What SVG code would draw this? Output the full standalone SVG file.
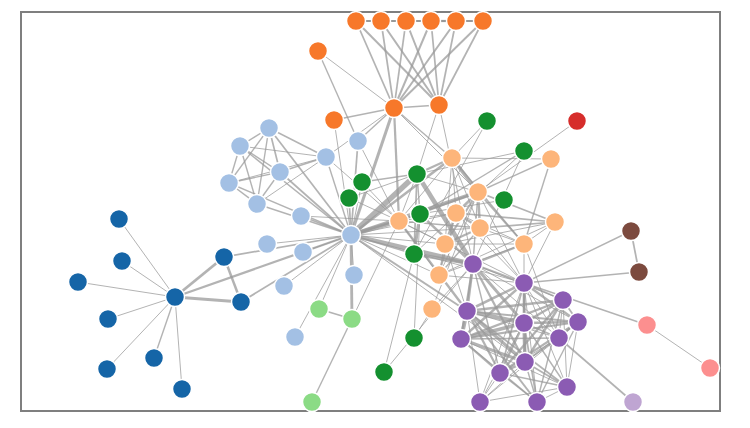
<svg xmlns="http://www.w3.org/2000/svg" width="750" height="428" viewBox="0 0 750 428">
<style>
.frame{fill:#fff;stroke:#7f7f7f;stroke-width:2}
.links line{stroke:#999;stroke-opacity:0.75}
.nodes circle{stroke:#fff;stroke-width:1.5}
.g1{fill:#1565a7}.g2{fill:#a3c0e4}.g3{fill:#f7782a}.g4{fill:#fdb57a}.g5{fill:#14902f}
.g0{fill:#8bdb85}.g6{fill:#d62d2b}.g7{fill:#fc8f8f}.g8{fill:#8b5bb3}.g9{fill:#bfa5d2}.g10{fill:#7c4a3e}
</style>
<rect class="frame" x="21" y="12" width="699" height="399"/>
<g id="links" class="links" stroke-width="1">
<line x1="119" y1="219" x2="175" y2="297"/>
<line x1="224" y1="257" x2="175" y2="297" stroke-width="2.83"/>
<line x1="241" y1="302" x2="175" y2="297" stroke-width="3.16"/>
<line x1="241" y1="302" x2="224" y2="257" stroke-width="2.45"/>
<line x1="122" y1="261" x2="175" y2="297"/>
<line x1="78" y1="282" x2="175" y2="297"/>
<line x1="108" y1="319" x2="175" y2="297"/>
<line x1="107" y1="369" x2="175" y2="297"/>
<line x1="154" y1="358" x2="175" y2="297" stroke-width="1.41"/>
<line x1="182" y1="389" x2="175" y2="297"/>
<line x1="351" y1="235" x2="267" y2="244"/>
<line x1="351" y1="235" x2="241" y2="302" stroke-width="1.73"/>
<line x1="351" y1="235" x2="224" y2="257" stroke-width="1.73"/>
<line x1="351" y1="235" x2="175" y2="297" stroke-width="2.24"/>
<line x1="334" y1="120" x2="351" y2="235"/>
<line x1="303" y1="252" x2="351" y2="235"/>
<line x1="284" y1="286" x2="351" y2="235"/>
<line x1="295" y1="337" x2="351" y2="235"/>
<line x1="356" y1="21" x2="439" y2="105" stroke-width="2"/>
<line x1="381" y1="21" x2="439" y2="105" stroke-width="2"/>
<line x1="381" y1="21" x2="356" y2="21" stroke-width="2"/>
<line x1="406" y1="21" x2="439" y2="105" stroke-width="2"/>
<line x1="406" y1="21" x2="356" y2="21" stroke-width="2"/>
<line x1="406" y1="21" x2="381" y2="21" stroke-width="2"/>
<line x1="431" y1="21" x2="439" y2="105" stroke-width="1.73"/>
<line x1="431" y1="21" x2="356" y2="21" stroke-width="1.73"/>
<line x1="431" y1="21" x2="381" y2="21" stroke-width="1.73"/>
<line x1="431" y1="21" x2="406" y2="21" stroke-width="2"/>
<line x1="456" y1="21" x2="439" y2="105" stroke-width="1.73"/>
<line x1="456" y1="21" x2="356" y2="21" stroke-width="1.73"/>
<line x1="456" y1="21" x2="381" y2="21" stroke-width="1.73"/>
<line x1="456" y1="21" x2="406" y2="21" stroke-width="1.73"/>
<line x1="456" y1="21" x2="431" y2="21" stroke-width="2.24"/>
<line x1="483" y1="21" x2="439" y2="105" stroke-width="1.73"/>
<line x1="483" y1="21" x2="356" y2="21" stroke-width="1.73"/>
<line x1="483" y1="21" x2="381" y2="21" stroke-width="1.73"/>
<line x1="483" y1="21" x2="406" y2="21" stroke-width="1.73"/>
<line x1="483" y1="21" x2="431" y2="21" stroke-width="2"/>
<line x1="483" y1="21" x2="456" y2="21" stroke-width="2"/>
<line x1="394" y1="108" x2="439" y2="105" stroke-width="1.73"/>
<line x1="394" y1="108" x2="356" y2="21" stroke-width="1.73"/>
<line x1="394" y1="108" x2="381" y2="21" stroke-width="1.73"/>
<line x1="394" y1="108" x2="406" y2="21" stroke-width="1.73"/>
<line x1="394" y1="108" x2="431" y2="21" stroke-width="2"/>
<line x1="394" y1="108" x2="456" y2="21" stroke-width="2"/>
<line x1="394" y1="108" x2="483" y2="21" stroke-width="2"/>
<line x1="394" y1="108" x2="334" y2="120" stroke-width="1.41"/>
<line x1="394" y1="108" x2="351" y2="235" stroke-width="3"/>
<line x1="452" y1="158" x2="394" y2="108" stroke-width="1.41"/>
<line x1="452" y1="158" x2="351" y2="235" stroke-width="2.65"/>
<line x1="478" y1="192" x2="452" y2="158" stroke-width="3.61"/>
<line x1="478" y1="192" x2="394" y2="108"/>
<line x1="478" y1="192" x2="351" y2="235" stroke-width="3.46"/>
<line x1="417" y1="174" x2="452" y2="158" stroke-width="2"/>
<line x1="417" y1="174" x2="351" y2="235" stroke-width="5.57"/>
<line x1="417" y1="174" x2="439" y2="105"/>
<line x1="417" y1="174" x2="478" y2="192"/>
<line x1="399" y1="221" x2="351" y2="235" stroke-width="4.12"/>
<line x1="399" y1="221" x2="394" y2="108" stroke-width="2.24"/>
<line x1="399" y1="221" x2="478" y2="192" stroke-width="2.24"/>
<line x1="399" y1="221" x2="452" y2="158"/>
<line x1="399" y1="221" x2="417" y2="174"/>
<line x1="352" y1="319" x2="351" y2="235" stroke-width="2.83"/>
<line x1="352" y1="319" x2="399" y2="221"/>
<line x1="326" y1="157" x2="394" y2="108"/>
<line x1="326" y1="157" x2="399" y2="221"/>
<line x1="326" y1="157" x2="351" y2="235" stroke-width="1.41"/>
<line x1="318" y1="51" x2="394" y2="108"/>
<line x1="358" y1="141" x2="318" y2="51" stroke-width="1.41"/>
<line x1="358" y1="141" x2="351" y2="235" stroke-width="1.73"/>
<line x1="358" y1="141" x2="394" y2="108" stroke-width="1.41"/>
<line x1="358" y1="141" x2="399" y2="221"/>
<line x1="354" y1="275" x2="351" y2="235"/>
<line x1="301" y1="216" x2="351" y2="235" stroke-width="1.41"/>
<line x1="301" y1="216" x2="399" y2="221"/>
<line x1="269" y1="128" x2="351" y2="235" stroke-width="1.73"/>
<line x1="269" y1="128" x2="326" y2="157" stroke-width="1.41"/>
<line x1="280" y1="172" x2="351" y2="235" stroke-width="1.73"/>
<line x1="280" y1="172" x2="269" y2="128" stroke-width="1.73"/>
<line x1="280" y1="172" x2="326" y2="157" stroke-width="1.41"/>
<line x1="240" y1="146" x2="269" y2="128" stroke-width="1.41"/>
<line x1="240" y1="146" x2="280" y2="172" stroke-width="1.41"/>
<line x1="240" y1="146" x2="351" y2="235" stroke-width="1.41"/>
<line x1="240" y1="146" x2="326" y2="157"/>
<line x1="229" y1="183" x2="269" y2="128" stroke-width="1.41"/>
<line x1="229" y1="183" x2="280" y2="172" stroke-width="1.41"/>
<line x1="229" y1="183" x2="240" y2="146" stroke-width="1.41"/>
<line x1="229" y1="183" x2="351" y2="235" stroke-width="1.41"/>
<line x1="229" y1="183" x2="326" y2="157"/>
<line x1="257" y1="204" x2="269" y2="128" stroke-width="1.41"/>
<line x1="257" y1="204" x2="280" y2="172" stroke-width="1.41"/>
<line x1="257" y1="204" x2="240" y2="146" stroke-width="1.41"/>
<line x1="257" y1="204" x2="229" y2="183" stroke-width="1.41"/>
<line x1="257" y1="204" x2="351" y2="235" stroke-width="1.41"/>
<line x1="257" y1="204" x2="326" y2="157"/>
<line x1="432" y1="309" x2="478" y2="192"/>
<line x1="577" y1="121" x2="478" y2="192"/>
<line x1="524" y1="244" x2="452" y2="158" stroke-width="1.41"/>
<line x1="524" y1="244" x2="478" y2="192" stroke-width="1.73"/>
<line x1="551" y1="159" x2="524" y2="244" stroke-width="1.41"/>
<line x1="551" y1="159" x2="478" y2="192" stroke-width="1.41"/>
<line x1="551" y1="159" x2="452" y2="158"/>
<line x1="349" y1="198" x2="351" y2="235" stroke-width="1.73"/>
<line x1="349" y1="198" x2="417" y2="174"/>
<line x1="349" y1="198" x2="399" y2="221"/>
<line x1="319" y1="309" x2="352" y2="319" stroke-width="1.73"/>
<line x1="319" y1="309" x2="351" y2="235"/>
<line x1="312" y1="402" x2="352" y2="319" stroke-width="1.41"/>
<line x1="647" y1="325" x2="710" y2="368"/>
<line x1="524" y1="283" x2="647" y2="325" stroke-width="1.41"/>
<line x1="524" y1="283" x2="478" y2="192"/>
<line x1="524" y1="283" x2="399" y2="221"/>
<line x1="524" y1="283" x2="351" y2="235"/>
<line x1="414" y1="254" x2="417" y2="174" stroke-width="1.73"/>
<line x1="414" y1="254" x2="351" y2="235" stroke-width="1.41"/>
<line x1="487" y1="121" x2="414" y2="254"/>
<line x1="487" y1="121" x2="452" y2="158"/>
<line x1="420" y1="214" x2="414" y2="254" stroke-width="3"/>
<line x1="420" y1="214" x2="417" y2="174" stroke-width="1.41"/>
<line x1="420" y1="214" x2="351" y2="235" stroke-width="1.41"/>
<line x1="414" y1="338" x2="420" y2="214"/>
<line x1="414" y1="338" x2="432" y2="309"/>
<line x1="504" y1="200" x2="420" y2="214"/>
<line x1="524" y1="151" x2="420" y2="214" stroke-width="1.41"/>
<line x1="524" y1="151" x2="414" y2="254"/>
<line x1="524" y1="151" x2="417" y2="174"/>
<line x1="473" y1="264" x2="420" y2="214" stroke-width="2.45"/>
<line x1="473" y1="264" x2="414" y2="254" stroke-width="3.46"/>
<line x1="473" y1="264" x2="432" y2="309"/>
<line x1="473" y1="264" x2="524" y2="151"/>
<line x1="473" y1="264" x2="417" y2="174" stroke-width="4.58"/>
<line x1="473" y1="264" x2="351" y2="235" stroke-width="4.36"/>
<line x1="473" y1="264" x2="439" y2="105"/>
<line x1="473" y1="264" x2="478" y2="192" stroke-width="1.41"/>
<line x1="473" y1="264" x2="524" y2="244" stroke-width="2.24"/>
<line x1="473" y1="264" x2="524" y2="283" stroke-width="2"/>
<line x1="384" y1="372" x2="414" y2="254"/>
<line x1="384" y1="372" x2="473" y2="264"/>
<line x1="559" y1="338" x2="473" y2="264"/>
<line x1="559" y1="338" x2="524" y2="244"/>
<line x1="559" y1="338" x2="524" y2="283"/>
<line x1="467" y1="311" x2="473" y2="264" stroke-width="2.65"/>
<line x1="467" y1="311" x2="524" y2="283" stroke-width="2.65"/>
<line x1="467" y1="311" x2="399" y2="221" stroke-width="2.45"/>
<line x1="467" y1="311" x2="559" y2="338"/>
<line x1="467" y1="311" x2="351" y2="235" stroke-width="2"/>
<line x1="461" y1="339" x2="467" y2="311" stroke-width="3.87"/>
<line x1="461" y1="339" x2="473" y2="264" stroke-width="2.24"/>
<line x1="461" y1="339" x2="524" y2="283" stroke-width="2.45"/>
<line x1="461" y1="339" x2="559" y2="338" stroke-width="1.41"/>
<line x1="537" y1="402" x2="524" y2="283"/>
<line x1="537" y1="402" x2="467" y2="311" stroke-width="2"/>
<line x1="537" y1="402" x2="461" y2="339" stroke-width="1.41"/>
<line x1="563" y1="300" x2="524" y2="283" stroke-width="1.41"/>
<line x1="563" y1="300" x2="467" y2="311" stroke-width="2.45"/>
<line x1="563" y1="300" x2="537" y2="402" stroke-width="1.41"/>
<line x1="563" y1="300" x2="461" y2="339" stroke-width="2.24"/>
<line x1="563" y1="300" x2="559" y2="338"/>
<line x1="563" y1="300" x2="473" y2="264"/>
<line x1="524" y1="323" x2="473" y2="264" stroke-width="3"/>
<line x1="524" y1="323" x2="467" y2="311" stroke-width="4.12"/>
<line x1="524" y1="323" x2="461" y2="339" stroke-width="3.61"/>
<line x1="524" y1="323" x2="524" y2="283" stroke-width="2.65"/>
<line x1="524" y1="323" x2="559" y2="338" stroke-width="1.41"/>
<line x1="524" y1="323" x2="524" y2="244"/>
<line x1="524" y1="323" x2="563" y2="300" stroke-width="2.45"/>
<line x1="524" y1="323" x2="537" y2="402" stroke-width="1.73"/>
<line x1="578" y1="322" x2="461" y2="339" stroke-width="2.24"/>
<line x1="578" y1="322" x2="524" y2="283" stroke-width="2.24"/>
<line x1="578" y1="322" x2="524" y2="323" stroke-width="2.45"/>
<line x1="578" y1="322" x2="559" y2="338" stroke-width="1.41"/>
<line x1="578" y1="322" x2="467" y2="311" stroke-width="2"/>
<line x1="578" y1="322" x2="563" y2="300" stroke-width="1.73"/>
<line x1="578" y1="322" x2="537" y2="402" stroke-width="1.41"/>
<line x1="578" y1="322" x2="473" y2="264"/>
<line x1="525" y1="362" x2="473" y2="264" stroke-width="2.24"/>
<line x1="525" y1="362" x2="524" y2="323" stroke-width="3.46"/>
<line x1="525" y1="362" x2="524" y2="283" stroke-width="2.24"/>
<line x1="525" y1="362" x2="578" y2="322" stroke-width="2"/>
<line x1="525" y1="362" x2="467" y2="311" stroke-width="3.16"/>
<line x1="525" y1="362" x2="563" y2="300" stroke-width="2.45"/>
<line x1="525" y1="362" x2="537" y2="402" stroke-width="1.41"/>
<line x1="525" y1="362" x2="461" y2="339" stroke-width="3"/>
<line x1="525" y1="362" x2="559" y2="338"/>
<line x1="525" y1="362" x2="351" y2="235"/>
<line x1="500" y1="373" x2="578" y2="322" stroke-width="2.24"/>
<line x1="500" y1="373" x2="525" y2="362" stroke-width="2.65"/>
<line x1="500" y1="373" x2="524" y2="283" stroke-width="1.73"/>
<line x1="500" y1="373" x2="524" y2="323" stroke-width="2.24"/>
<line x1="500" y1="373" x2="467" y2="311" stroke-width="2.24"/>
<line x1="500" y1="373" x2="563" y2="300" stroke-width="2.24"/>
<line x1="500" y1="373" x2="537" y2="402" stroke-width="1.41"/>
<line x1="500" y1="373" x2="461" y2="339" stroke-width="2.24"/>
<line x1="500" y1="373" x2="559" y2="338"/>
<line x1="500" y1="373" x2="473" y2="264" stroke-width="1.41"/>
<line x1="567" y1="387" x2="525" y2="362" stroke-width="1.73"/>
<line x1="567" y1="387" x2="467" y2="311" stroke-width="1.73"/>
<line x1="567" y1="387" x2="461" y2="339"/>
<line x1="567" y1="387" x2="524" y2="323" stroke-width="1.41"/>
<line x1="567" y1="387" x2="500" y2="373" stroke-width="1.41"/>
<line x1="567" y1="387" x2="524" y2="283"/>
<line x1="567" y1="387" x2="578" y2="322"/>
<line x1="567" y1="387" x2="563" y2="300"/>
<line x1="567" y1="387" x2="537" y2="402"/>
<line x1="633" y1="402" x2="559" y2="338" stroke-width="1.73"/>
<line x1="456" y1="213" x2="478" y2="192" stroke-width="2.24"/>
<line x1="456" y1="213" x2="351" y2="235"/>
<line x1="456" y1="213" x2="452" y2="158"/>
<line x1="456" y1="213" x2="399" y2="221"/>
<line x1="456" y1="213" x2="524" y2="283"/>
<line x1="456" y1="213" x2="524" y2="244"/>
<line x1="480" y1="228" x2="478" y2="192" stroke-width="2.45"/>
<line x1="480" y1="228" x2="456" y2="213" stroke-width="2.45"/>
<line x1="480" y1="228" x2="351" y2="235"/>
<line x1="480" y1="228" x2="452" y2="158"/>
<line x1="480" y1="228" x2="399" y2="221" stroke-width="1.41"/>
<line x1="480" y1="228" x2="524" y2="283"/>
<line x1="480" y1="228" x2="524" y2="244"/>
<line x1="445" y1="244" x2="478" y2="192" stroke-width="2"/>
<line x1="445" y1="244" x2="480" y2="228" stroke-width="2"/>
<line x1="445" y1="244" x2="456" y2="213" stroke-width="2"/>
<line x1="445" y1="244" x2="351" y2="235"/>
<line x1="445" y1="244" x2="452" y2="158"/>
<line x1="445" y1="244" x2="399" y2="221"/>
<line x1="445" y1="244" x2="524" y2="244"/>
<line x1="445" y1="244" x2="467" y2="311"/>
<line x1="439" y1="275" x2="399" y2="221"/>
<line x1="439" y1="275" x2="480" y2="228" stroke-width="1.41"/>
<line x1="439" y1="275" x2="456" y2="213" stroke-width="1.41"/>
<line x1="439" y1="275" x2="445" y2="244" stroke-width="1.41"/>
<line x1="439" y1="275" x2="351" y2="235"/>
<line x1="439" y1="275" x2="524" y2="283"/>
<line x1="439" y1="275" x2="524" y2="244"/>
<line x1="439" y1="275" x2="478" y2="192"/>
<line x1="362" y1="182" x2="417" y2="174" stroke-width="1.41"/>
<line x1="362" y1="182" x2="399" y2="221"/>
<line x1="362" y1="182" x2="351" y2="235"/>
<line x1="631" y1="231" x2="524" y2="283" stroke-width="1.41"/>
<line x1="639" y1="272" x2="524" y2="283" stroke-width="1.41"/>
<line x1="639" y1="272" x2="631" y2="231" stroke-width="1.73"/>
<line x1="555" y1="222" x2="480" y2="228" stroke-width="1.73"/>
<line x1="555" y1="222" x2="456" y2="213" stroke-width="1.73"/>
<line x1="555" y1="222" x2="478" y2="192" stroke-width="1.73"/>
<line x1="555" y1="222" x2="524" y2="283"/>
<line x1="555" y1="222" x2="524" y2="244"/>
<line x1="555" y1="222" x2="445" y2="244"/>
<line x1="555" y1="222" x2="439" y2="275"/>
<line x1="480" y1="402" x2="525" y2="362"/>
<line x1="480" y1="402" x2="500" y2="373"/>
<line x1="480" y1="402" x2="567" y2="387"/>
<line x1="480" y1="402" x2="578" y2="322"/>
<line x1="480" y1="402" x2="524" y2="323"/>
<line x1="480" y1="402" x2="524" y2="283"/>
<line x1="480" y1="402" x2="467" y2="311"/>
</g>
<g id="nodes" class="nodes">
<g id="Myriel"><circle class="g1" cx="175" cy="297" r="9.5"/></g>
<g id="Napoleon"><circle class="g1" cx="119" cy="219" r="9.5"/></g>
<g id="MlleBaptistine"><circle class="g1" cx="224" cy="257" r="9.5"/></g>
<g id="MmeMagloire"><circle class="g1" cx="241" cy="302" r="9.5"/></g>
<g id="CountessDeLo"><circle class="g1" cx="122" cy="261" r="9.5"/></g>
<g id="Geborand"><circle class="g1" cx="78" cy="282" r="9.5"/></g>
<g id="Champtercier"><circle class="g1" cx="108" cy="319" r="9.5"/></g>
<g id="Cravatte"><circle class="g1" cx="107" cy="369" r="9.5"/></g>
<g id="Count"><circle class="g1" cx="154" cy="358" r="9.5"/></g>
<g id="OldMan"><circle class="g1" cx="182" cy="389" r="9.5"/></g>
<g id="Labarre"><circle class="g2" cx="267" cy="244" r="9.5"/></g>
<g id="Valjean"><circle class="g2" cx="351" cy="235" r="9.5"/></g>
<g id="Marguerite"><circle class="g3" cx="334" cy="120" r="9.5"/></g>
<g id="MmeDeR"><circle class="g2" cx="303" cy="252" r="9.5"/></g>
<g id="Isabeau"><circle class="g2" cx="284" cy="286" r="9.5"/></g>
<g id="Gervais"><circle class="g2" cx="295" cy="337" r="9.5"/></g>
<g id="Tholomyes"><circle class="g3" cx="439" cy="105" r="9.5"/></g>
<g id="Listolier"><circle class="g3" cx="356" cy="21" r="9.5"/></g>
<g id="Fameuil"><circle class="g3" cx="381" cy="21" r="9.5"/></g>
<g id="Blacheville"><circle class="g3" cx="406" cy="21" r="9.5"/></g>
<g id="Favourite"><circle class="g3" cx="431" cy="21" r="9.5"/></g>
<g id="Dahlia"><circle class="g3" cx="456" cy="21" r="9.5"/></g>
<g id="Zephine"><circle class="g3" cx="483" cy="21" r="9.5"/></g>
<g id="Fantine"><circle class="g3" cx="394" cy="108" r="9.5"/></g>
<g id="MmeThenardier"><circle class="g4" cx="452" cy="158" r="9.5"/></g>
<g id="Thenardier"><circle class="g4" cx="478" cy="192" r="9.5"/></g>
<g id="Cosette"><circle class="g5" cx="417" cy="174" r="9.5"/></g>
<g id="Javert"><circle class="g4" cx="399" cy="221" r="9.5"/></g>
<g id="Fauchelevent"><circle class="g0" cx="352" cy="319" r="9.5"/></g>
<g id="Bamatabois"><circle class="g2" cx="326" cy="157" r="9.5"/></g>
<g id="Perpetue"><circle class="g3" cx="318" cy="51" r="9.5"/></g>
<g id="Simplice"><circle class="g2" cx="358" cy="141" r="9.5"/></g>
<g id="Scaufflaire"><circle class="g2" cx="354" cy="275" r="9.5"/></g>
<g id="Woman1"><circle class="g2" cx="301" cy="216" r="9.5"/></g>
<g id="Judge"><circle class="g2" cx="269" cy="128" r="9.5"/></g>
<g id="Champmathieu"><circle class="g2" cx="280" cy="172" r="9.5"/></g>
<g id="Brevet"><circle class="g2" cx="240" cy="146" r="9.5"/></g>
<g id="Chenildieu"><circle class="g2" cx="229" cy="183" r="9.5"/></g>
<g id="Cochepaille"><circle class="g2" cx="257" cy="204" r="9.5"/></g>
<g id="Pontmercy"><circle class="g4" cx="432" cy="309" r="9.5"/></g>
<g id="Boulatruelle"><circle class="g6" cx="577" cy="121" r="9.5"/></g>
<g id="Eponine"><circle class="g4" cx="524" cy="244" r="9.5"/></g>
<g id="Anzelma"><circle class="g4" cx="551" cy="159" r="9.5"/></g>
<g id="Woman2"><circle class="g5" cx="349" cy="198" r="9.5"/></g>
<g id="MotherInnocent"><circle class="g0" cx="319" cy="309" r="9.5"/></g>
<g id="Gribier"><circle class="g0" cx="312" cy="402" r="9.5"/></g>
<g id="Jondrette"><circle class="g7" cx="710" cy="368" r="9.5"/></g>
<g id="MmeBurgon"><circle class="g7" cx="647" cy="325" r="9.5"/></g>
<g id="Gavroche"><circle class="g8" cx="524" cy="283" r="9.5"/></g>
<g id="Gillenormand"><circle class="g5" cx="414" cy="254" r="9.5"/></g>
<g id="Magnon"><circle class="g5" cx="487" cy="121" r="9.5"/></g>
<g id="MlleGillenormand"><circle class="g5" cx="420" cy="214" r="9.5"/></g>
<g id="MmePontmercy"><circle class="g5" cx="414" cy="338" r="9.5"/></g>
<g id="MlleVaubois"><circle class="g5" cx="504" cy="200" r="9.5"/></g>
<g id="LtGillenormand"><circle class="g5" cx="524" cy="151" r="9.5"/></g>
<g id="Marius"><circle class="g8" cx="473" cy="264" r="9.5"/></g>
<g id="BaronessT"><circle class="g5" cx="384" cy="372" r="9.5"/></g>
<g id="Mabeuf"><circle class="g8" cx="559" cy="338" r="9.5"/></g>
<g id="Enjolras"><circle class="g8" cx="467" cy="311" r="9.5"/></g>
<g id="Combeferre"><circle class="g8" cx="461" cy="339" r="9.5"/></g>
<g id="Prouvaire"><circle class="g8" cx="537" cy="402" r="9.5"/></g>
<g id="Feuilly"><circle class="g8" cx="563" cy="300" r="9.5"/></g>
<g id="Courfeyrac"><circle class="g8" cx="524" cy="323" r="9.5"/></g>
<g id="Bahorel"><circle class="g8" cx="578" cy="322" r="9.5"/></g>
<g id="Bossuet"><circle class="g8" cx="525" cy="362" r="9.5"/></g>
<g id="Joly"><circle class="g8" cx="500" cy="373" r="9.5"/></g>
<g id="Grantaire"><circle class="g8" cx="567" cy="387" r="9.5"/></g>
<g id="MotherPlutarch"><circle class="g9" cx="633" cy="402" r="9.5"/></g>
<g id="Gueulemer"><circle class="g4" cx="456" cy="213" r="9.5"/></g>
<g id="Babet"><circle class="g4" cx="480" cy="228" r="9.5"/></g>
<g id="Claquesous"><circle class="g4" cx="445" cy="244" r="9.5"/></g>
<g id="Montparnasse"><circle class="g4" cx="439" cy="275" r="9.5"/></g>
<g id="Toussaint"><circle class="g5" cx="362" cy="182" r="9.5"/></g>
<g id="Child1"><circle class="g10" cx="631" cy="231" r="9.5"/></g>
<g id="Child2"><circle class="g10" cx="639" cy="272" r="9.5"/></g>
<g id="Brujon"><circle class="g4" cx="555" cy="222" r="9.5"/></g>
<g id="MmeHucheloup"><circle class="g8" cx="480" cy="402" r="9.5"/></g>
</g>
</svg>
